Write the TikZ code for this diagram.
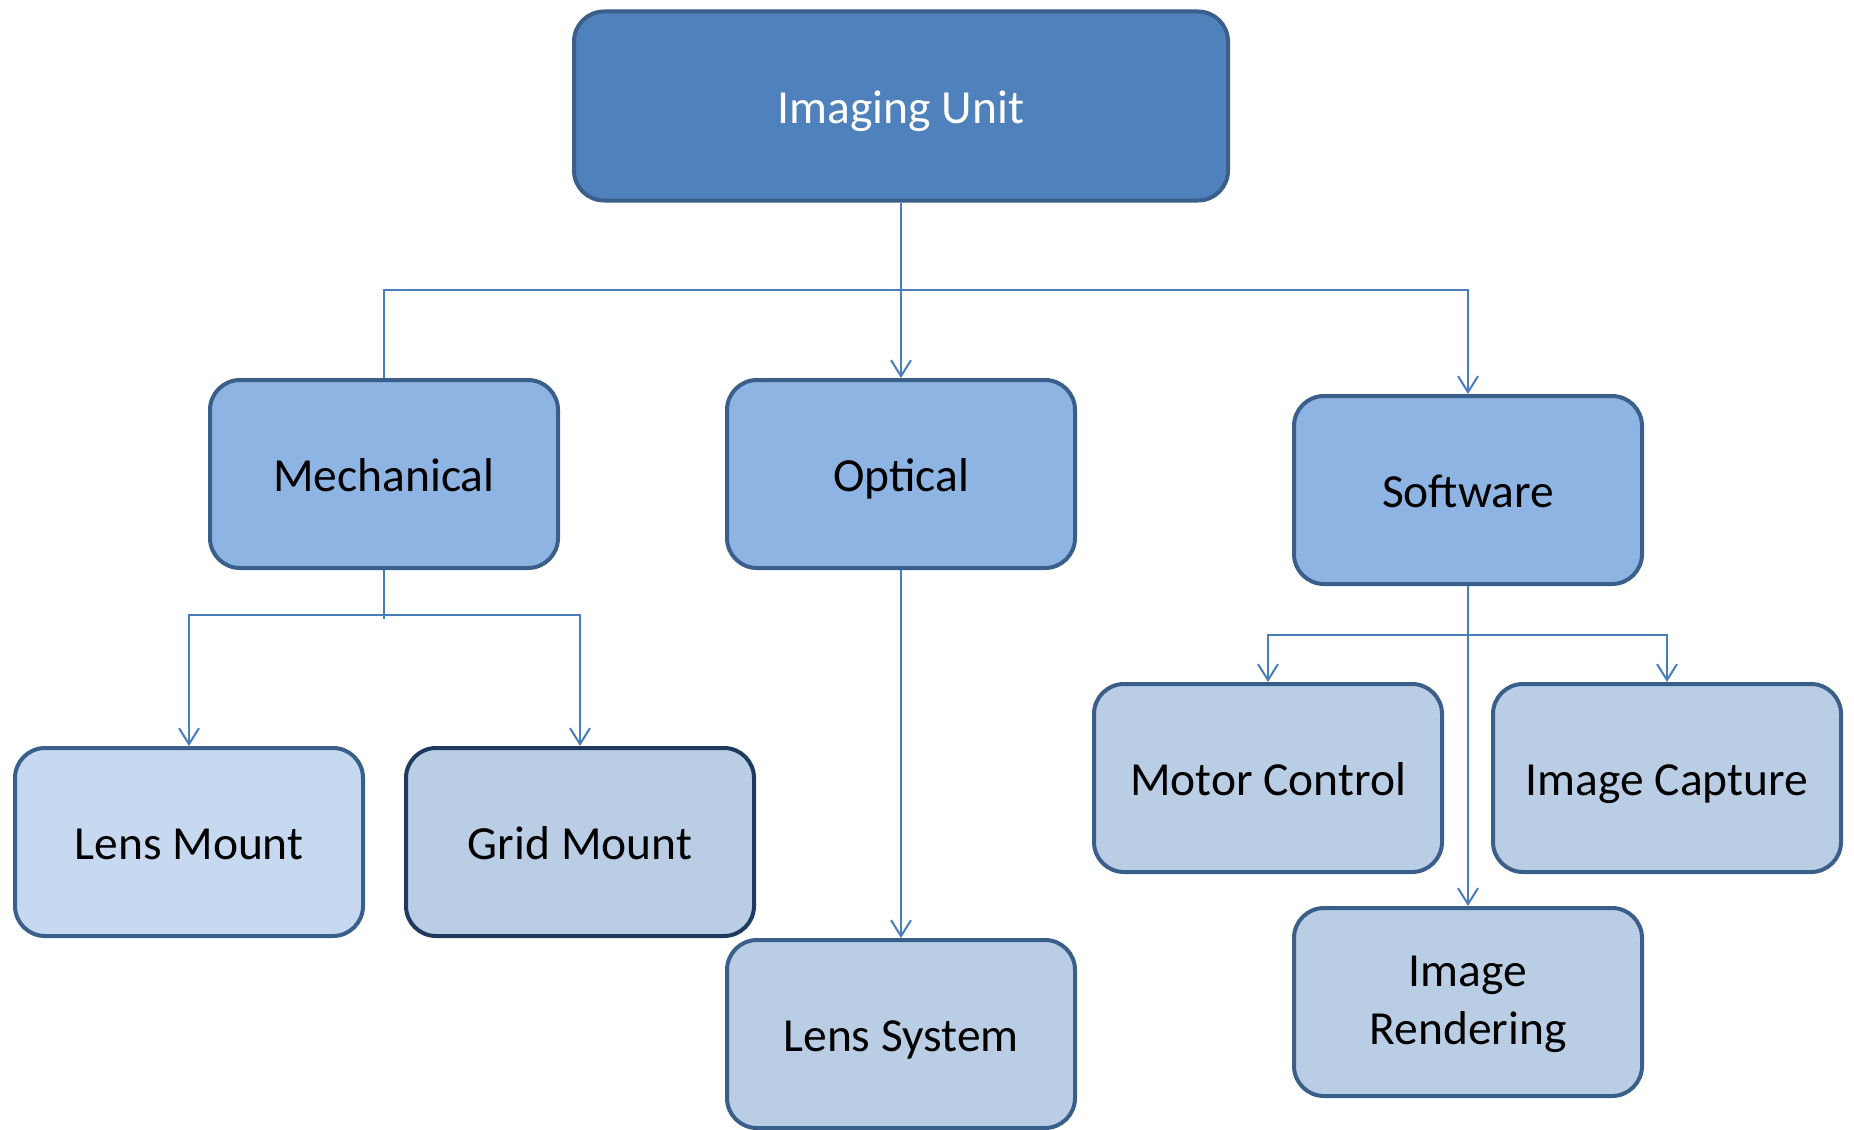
\documentclass[tikz,border=0pt]{standalone}
\usepackage{fontspec}
\setmainfont{Carlito}
\usetikzlibrary{arrows.meta}
\definecolor{topfill}{HTML}{4F81BD}
\definecolor{boxborder}{HTML}{3A5F8B}
\definecolor{midfill}{HTML}{8EB4E3}
\definecolor{lowfill}{HTML}{B9CDE5}
\definecolor{lightfill}{HTML}{C6D9F1}
\definecolor{darkborder}{HTML}{1F3A60}
\definecolor{conncol}{HTML}{4A7EBB}
\tikzset{
  boxbase/.style={draw=boxborder, line width=4pt, rounded corners=30pt,
    inner sep=0pt, align=center, text height=35pt, text depth=0pt,
    font=\fontsize{47.5}{58.5}\selectfont},
  topbox/.style={boxbase, fill=topfill, text=white, minimum width=654pt, minimum height=189pt},
  midbox/.style={boxbase, fill=midfill, text=black, minimum width=348pt, minimum height=188pt},
  lowbox/.style={boxbase, fill=lowfill, text=black, minimum width=348pt, minimum height=188pt},
  conn/.style={draw=conncol, line width=2pt},
  connarrow/.style={conn, -{Straight Barb[length=16pt,width=20pt,line width=2pt]}}
}
\begin{document}
\begin{tikzpicture}[x=1pt,y=-1pt]
\useasboundingbox (0,0) rectangle (1854,1129);
\fill[white] (0,0) rectangle (1854,1129);

\node[topbox] (iu) at (901,106) {Imaging Unit};
\node[midbox] (me) at (384,474) {Mechanical};
\node[midbox] (op) at (901,474) {Optical};
\node[midbox] (sw) at (1468,490) {Software};
\node[lowbox, fill=lightfill] (lm) at (189,842) {Lens Mount};
\node[lowbox, draw=darkborder] (gm) at (580,842) {Grid Mount};
\node[lowbox] (ls) at (901,1034) {Lens System};
\node[lowbox] (mc) at (1268,778) {Motor Control};
\node[lowbox] (ic) at (1667,778) {Image Capture};
\node[lowbox, text height=93.5pt, text depth=8pt] (rn) at (1468,1002) {Image\\Rendering};

\coordinate (j1) at (901,290);
\coordinate (j2) at (384,615);
\coordinate (j3) at (1468,635);

% Imaging Unit
\draw[connarrow] (iu.south) -- (op.north);
\draw[connarrow] (me.north) |- (j1) -| (sw.north);
% Mechanical
\draw[conn] (me.south) -- ([yshift=-4pt]j2);
\draw[connarrow] (j2) -| (lm.north);
\draw[connarrow] (j2) -| (gm.north);
% Optical
\draw[connarrow] (op.south) -- (ls.north);
% Software
\draw[connarrow] (sw.south) -- (rn.north);
\draw[connarrow] (j3) -| (mc.north);
\draw[connarrow] (j3) -| (ic.north);
\end{tikzpicture}
\end{document}
